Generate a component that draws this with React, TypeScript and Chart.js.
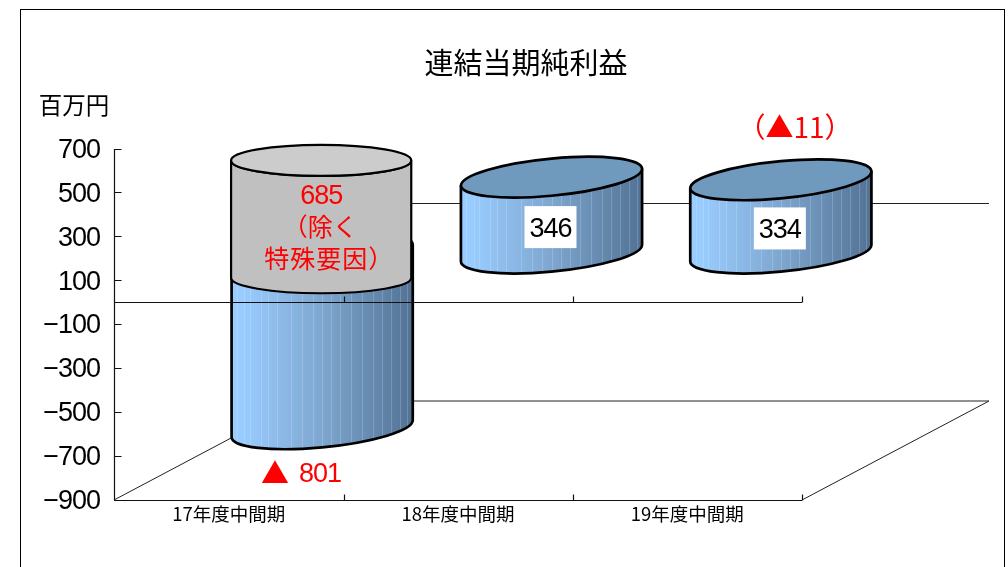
import React, { useEffect, useRef } from "react";
import { Chart, registerables } from "chart.js";

Chart.register(...registerables);

const categories = ["17年度中間期", "18年度中間期", "19年度中間期"];
const netIncome = [-801, 346, 334];
const yTicks = [700, 500, 300, 100, -100, -300, -500, -700, -900];
const specialRange = [113, 648]; // grey "excluding special factors" cylinder on the value axis
const titleText = "連結当期純利益";
const unitText = "百万円";
const specialLabels = ["685", "（除く", "特殊要因）"];
const lossMark = "▲";
const lossValue = "801";
const noteLabel = "（▲11）";

const FONT = '"Noto Sans CJK JP", "Liberation Sans", sans-serif';
const LATIN = '"Liberation Sans", "Noto Sans CJK JP", sans-serif';
const DEPTH_X = 187;
const DEPTH_Y = 99;
const STRIPES = [0.03, 0.07, 0.1, 0.16, 0.2, 0.25, 0.33, 0.39, 0.45, 0.5, 0.55, 0.6, 0.66, 0.72, 0.78, 0.83, 0.88, 0.93, 0.97];

function ellipsePath(ctx: CanvasRenderingContext2D, cx: number, cy: number, rx: number, ry: number, skew: number, a0: number, a1: number, ccw = false) {
  ctx.save();
  ctx.transform(1, skew, 0, 1, cx, cy);
  ctx.ellipse(0, 0, rx, ry, 0, a0, a1, ccw);
  ctx.restore();
}

function drawCylinder(ctx: CanvasRenderingContext2D, cx: number, topY: number, baseY: number, rx: number) {
  const skew = -0.093;
  const ry = 18.6;
  const grad = ctx.createLinearGradient(cx - rx, 0, cx + rx, 0);
  grad.addColorStop(0, "#99CCFF");
  grad.addColorStop(0.06, "#99CCFF");
  grad.addColorStop(0.5, "#7EA6CF");
  grad.addColorStop(1, "#527294");

  ctx.beginPath();
  ctx.moveTo(cx - rx, topY - skew * rx);
  ellipsePath(ctx, cx, baseY, rx, ry, skew, Math.PI, 0, true);
  ctx.lineTo(cx + rx, topY + skew * rx);
  ellipsePath(ctx, cx, topY, rx, ry, skew, 0, Math.PI, false);
  ctx.closePath();
  ctx.fillStyle = grad;
  ctx.fill();

  ctx.save();
  ctx.clip();
  ctx.strokeStyle = "rgba(255,255,255,0.18)";
  ctx.lineWidth = 1;
  for (const f of STRIPES) {
    const x = Math.round(cx - rx + f * 2 * rx) + 0.5;
    ctx.beginPath();
    ctx.moveTo(x, topY - 40);
    ctx.lineTo(x, baseY + 40);
    ctx.stroke();
  }
  ctx.restore();

  ctx.strokeStyle = "#000";
  ctx.lineWidth = 2.7;
  ctx.beginPath();
  ctx.moveTo(cx - rx, topY - skew * rx);
  ellipsePath(ctx, cx, baseY, rx, ry, skew, Math.PI, 0, true);
  ctx.lineTo(cx + rx, topY + skew * rx);
  ctx.stroke();

  ctx.beginPath();
  ellipsePath(ctx, cx, topY, rx, ry, skew, 0, Math.PI * 2);
  ctx.closePath();
  ctx.fillStyle = "#7099BE";
  ctx.fill();
  ctx.stroke();
}

const paintPlugin = {
  id: "paint",
  beforeDraw(chart: Chart) {
    const { ctx, chartArea: a, scales } = chart;
    const y = scales.y;
    ctx.save();
    ctx.fillStyle = "#fff";
    ctx.fillRect(0, 0, chart.width, chart.height);
    ctx.strokeStyle = "#000";
    ctx.lineWidth = 1;
    ctx.strokeRect(20.5, 9.5, 984, 640);

    ctx.strokeStyle = "#222";
    const zero = Math.floor(y.getPixelForValue(0)) + 0.5;
    ctx.beginPath();
    ctx.moveTo(a.left + DEPTH_X, zero - DEPTH_Y);
    ctx.lineTo(a.right + DEPTH_X, zero - DEPTH_Y);
    ctx.moveTo(a.left, a.bottom);
    ctx.lineTo(a.left + DEPTH_X, a.bottom - DEPTH_Y);
    ctx.lineTo(a.right + DEPTH_X, a.bottom - DEPTH_Y);
    ctx.lineTo(a.right, a.bottom);
    ctx.stroke();
    ctx.restore();

    // value-axis labels (layer z 0) are drawn next: tighten and nudge them
    (ctx as any).letterSpacing = "-1px";
    ctx.translate(0, 1.5);
  },
  beforeDatasetsDraw(chart: Chart) {
    const ctx = chart.ctx;
    (ctx as any).letterSpacing = "0px";
    ctx.setTransform(1, 0, 0, 1, 0, 0);
  },
  afterDatasetsDraw(chart: Chart) {
    const { ctx, chartArea: a, scales } = chart;
    const y = scales.y;
    const x = scales.x;
    const els = chart.getDatasetMeta(0).data as any[];
    ctx.save();
    els.forEach((el) => {
      const cx = el.x + DEPTH_X / 2;
      const rx = el.width / 2;
      const top = Math.min(el.y, el.base);
      const bot = Math.max(el.y, el.base);
      drawCylinder(ctx, cx, top - DEPTH_Y / 2, bot - DEPTH_Y / 2, rx);
    });

    // grey overlay cylinder over the first bar
    const g = els[0];
    const gx = g.x + DEPTH_X / 2 - 1;
    const grx = g.width / 2 - 0.5;
    const gTop = y.getPixelForValue(specialRange[1]);
    const gBase = y.getPixelForValue(specialRange[0]);
    const gry = 15.5;
    ctx.beginPath();
    ctx.moveTo(gx - grx, gTop);
    ctx.lineTo(gx - grx, gBase);
    ctx.ellipse(gx, gBase, grx, gry, 0, Math.PI, 0, true);
    ctx.lineTo(gx + grx, gTop);
    ctx.ellipse(gx, gTop, grx, gry, 0, 0, Math.PI, false);
    ctx.closePath();
    ctx.fillStyle = "#C0C0C0";
    ctx.fill();
    ctx.strokeStyle = "#000";
    ctx.lineWidth = 2.2;
    ctx.stroke();
    ctx.beginPath();
    ctx.ellipse(gx, gTop, grx, gry, 0, 0, Math.PI * 2);
    ctx.fillStyle = "#CCCCCC";
    ctx.fill();
    ctx.stroke();

    // front zero plane and inward ticks
    ctx.strokeStyle = "#111";
    ctx.lineWidth = 1.2;
    const zero = Math.floor(y.getPixelForValue(0)) + 0.5;
    const bottom = Math.round(a.bottom) + 0.5;
    ctx.beginPath();
    ctx.moveTo(a.left, zero);
    ctx.lineTo(a.right, zero);
    ctx.moveTo(a.left, bottom);
    ctx.lineTo(a.right, bottom);
    const left = Math.round(a.left) + 0.5;
    ctx.moveTo(left, a.top);
    ctx.lineTo(left, a.bottom);
    yTicks.forEach((v) => {
      const py = Math.floor(y.getPixelForValue(v)) + 0.5;
      ctx.moveTo(left, py);
      ctx.lineTo(left + 7, py);
    });
    const step = x.getPixelForValue(1) - x.getPixelForValue(0);
    categories.forEach((_, i) => {
      const px = Math.ceil(x.getPixelForValue(i) + step / 2) + 0.5;
      ctx.moveTo(px, zero);
      ctx.lineTo(px, zero - 6);
      ctx.moveTo(px, bottom);
      ctx.lineTo(px, bottom - 6);
    });
    ctx.stroke();

    // texts
    const c = ctx as any;
    ctx.textAlign = "center";
    ctx.textBaseline = "middle";
    ctx.fillStyle = "#000";
    ctx.font = `29px ${FONT}`;
    ctx.fillText(titleText, 526, 63);
    ctx.font = `23.5px ${FONT}`;
    ctx.fillText(unitText, 74, 105);

    ctx.fillStyle = "#FF0000";
    const lx = gx + 0;
    c.letterSpacing = "-1px";
    ctx.font = `27px ${LATIN}`;
    ctx.fillText(specialLabels[0], lx, 196.5);
    ctx.fillText(lossValue, 320, 474.5);
    c.letterSpacing = "0px";
    ctx.font = `25px ${FONT}`;
    ctx.fillText(specialLabels[1], lx - 1, 226);
    c.letterSpacing = "1px";
    ctx.fillText(specialLabels[2], lx + 8, 258);
    c.letterSpacing = "0px";
    ctx.font = `28px ${FONT}`;
    ctx.fillText(lossMark, 275, 473);
    ctx.fillText(noteLabel, 795, 127);

    [1, 2].forEach((i) => {
      const el = els[i];
      const cx = el.x + DEPTH_X / 2;
      const midY = (el.y + el.base) / 2 - DEPTH_Y / 2 + 12;
      ctx.fillStyle = "#fff";
      ctx.fillRect(cx - 27, midY - 21, 52, 42);
      ctx.fillStyle = "#000";
      c.letterSpacing = "-1px";
      ctx.font = `27px ${LATIN}`;
      ctx.fillText(String(netIncome[i]), cx - 1, midY + 2);
      c.letterSpacing = "0px";
    });
    ctx.restore();
  },
};

export default function App() {
  const ref = useRef<HTMLCanvasElement>(null);
  useEffect(() => {
    const chart = new Chart(ref.current!, {
      type: "bar",
      data: {
        labels: categories,
        datasets: [
          {
            data: netIncome,
            backgroundColor: "rgba(0,0,0,0)",
            borderWidth: 0,
            categoryPercentage: 1,
            barPercentage: 0.79,
          },
        ],
      },
      options: {
        responsive: false,
        animation: false,
        layout: { padding: { left: 0, top: 149, right: 206, bottom: 37 } },
        plugins: { legend: { display: false }, title: { display: false }, tooltip: { enabled: false } },
        scales: {
          x: {
            offset: true,
            afterFit: (s: any) => { s.height = 30; },
            grid: { display: false, drawTicks: false },
            border: { display: false },
            ticks: { z: 1, color: "#000", padding: 3, maxRotation: 0, autoSkip: false, font: { family: FONT, size: 18.5 } },
          },
          y: {
            min: -900,
            max: 700,
            afterFit: (s: any) => { s.width = 114; },
            afterBuildTicks: (s: any) => { s.ticks = yTicks.map((value) => ({ value })); },
            grid: { display: false, drawTicks: false },
            border: { display: false },
            ticks: {
              color: "#000",
              padding: 14,
              font: { family: LATIN, size: 27 },
              callback: (v: any) => String(v).replace("-", "−"),
            },
          },
        },
      },
      plugins: [paintPlugin],
    });
    return () => chart.destroy();
  }, []);
  return (
    <div style={{ position: "absolute", left: 0, top: 0, width: 1008, height: 567, overflow: "hidden" }}>
      <canvas ref={ref} width={1008} height={567} style={{ display: "block" }} />
    </div>
  );
}
